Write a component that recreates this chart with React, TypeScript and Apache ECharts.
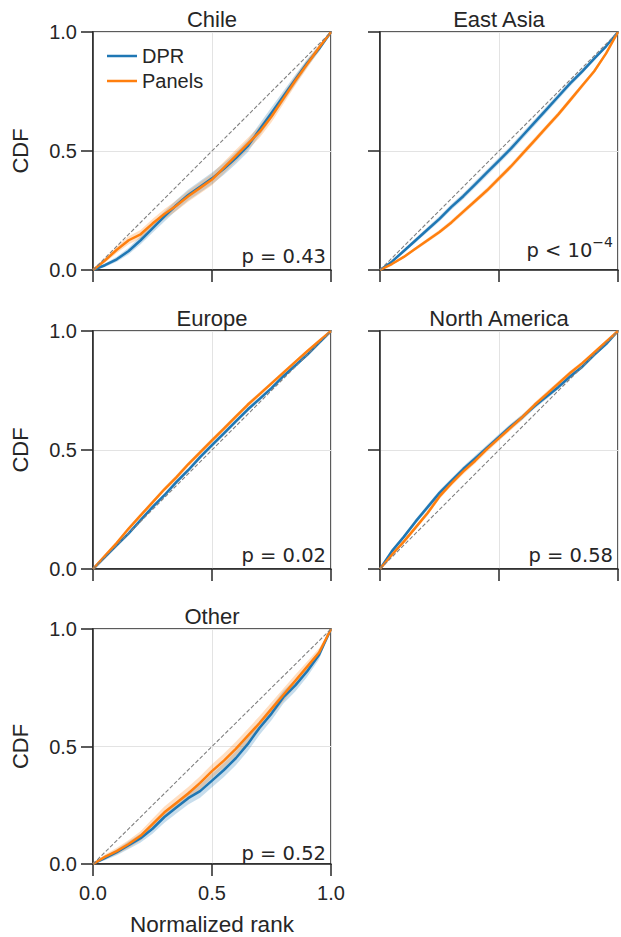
import React, { useEffect, useRef } from 'react';
import * as echarts from 'echarts';

// Normalized rank sample positions
const rankX = [0, 0.05, 0.1, 0.15, 0.2, 0.25, 0.3, 0.35, 0.4, 0.45, 0.5, 0.55, 0.6, 0.65, 0.7, 0.75, 0.8, 0.85, 0.9, 0.95, 1];

const panelTitles = ['Chile', 'East Asia', 'Europe', 'North America', 'Other'];
const pValueLabels = ['p = 0.43', 'p < 10^-4', 'p = 0.02', 'p = 0.58', 'p = 0.52'];
const seriesNames = ['DPR', 'Panels'];

// CDF values
const chileDPR = [0, 0.02, 0.045, 0.08, 0.125, 0.175, 0.225, 0.272, 0.315, 0.35, 0.385, 0.425, 0.47, 0.52, 0.59, 0.66, 0.73, 0.8, 0.87, 0.93, 1];
const chilePanels = [0, 0.04, 0.085, 0.125, 0.15, 0.195, 0.235, 0.27, 0.31, 0.345, 0.38, 0.43, 0.48, 0.53, 0.58, 0.645, 0.72, 0.795, 0.865, 0.935, 1];
const eastAsiaDPR = [0, 0.035, 0.08, 0.125, 0.17, 0.215, 0.265, 0.31, 0.36, 0.41, 0.46, 0.51, 0.565, 0.62, 0.675, 0.73, 0.785, 0.835, 0.888, 0.94, 1];
const eastAsiaPanels = [0, 0.025, 0.055, 0.09, 0.125, 0.16, 0.2, 0.245, 0.29, 0.335, 0.385, 0.435, 0.49, 0.545, 0.6, 0.655, 0.715, 0.775, 0.835, 0.91, 1];
const europeDPR = [0, 0.05, 0.1, 0.15, 0.205, 0.26, 0.31, 0.365, 0.415, 0.47, 0.52, 0.57, 0.62, 0.67, 0.715, 0.76, 0.81, 0.855, 0.9, 0.95, 1];
const europePanels = [0, 0.055, 0.11, 0.17, 0.225, 0.28, 0.335, 0.385, 0.44, 0.49, 0.54, 0.59, 0.64, 0.69, 0.735, 0.78, 0.825, 0.87, 0.915, 0.958, 1];
const northAmericaDPR = [0, 0.075, 0.135, 0.2, 0.26, 0.32, 0.37, 0.42, 0.465, 0.51, 0.555, 0.6, 0.64, 0.685, 0.725, 0.765, 0.81, 0.85, 0.9, 0.945, 1];
const northAmericaPanels = [0, 0.06, 0.115, 0.175, 0.235, 0.305, 0.36, 0.41, 0.455, 0.505, 0.55, 0.595, 0.64, 0.69, 0.735, 0.78, 0.825, 0.865, 0.91, 0.955, 1];
const otherDPR = [0, 0.025, 0.05, 0.08, 0.11, 0.15, 0.2, 0.24, 0.28, 0.31, 0.355, 0.4, 0.45, 0.51, 0.58, 0.64, 0.71, 0.76, 0.82, 0.89, 1];
const otherPanels = [0, 0.03, 0.055, 0.085, 0.12, 0.17, 0.22, 0.26, 0.3, 0.345, 0.395, 0.44, 0.49, 0.545, 0.6, 0.66, 0.72, 0.78, 0.84, 0.9, 1];

// confidence band half-widths (DPR, Panels) per panel
const bandHalfWidth = [
  [0.025, 0.025],
  [0.014, 0.012],
  [0.01, 0.01],
  [0.012, 0.012],
  [0.03, 0.03],
];

const panelData = [
  [chileDPR, chilePanels],
  [eastAsiaDPR, eastAsiaPanels],
  [europeDPR, europePanels],
  [northAmericaDPR, northAmericaPanels],
  [otherDPR, otherPanels],
];

const COLORS = ['#1f77b4', '#ff7f0e'];
const INK = '#262626';
const SANS = 'Liberation Sans, Arial, sans-serif';
const MATH = 'DejaVu Sans, sans-serif';

const GRID_POS = [
  { left: 93, top: 32 },
  { left: 380, top: 32 },
  { left: 93, top: 331 },
  { left: 380, top: 331 },
  { left: 93, top: 629 },
];
const SIZE = 238;

export default function App() {
  const ref = useRef<HTMLDivElement>(null);

  useEffect(() => {
    if (!ref.current) return;
    const chart = echarts.init(ref.current, null, { renderer: 'svg' });

    const grids = GRID_POS.map((g) => ({
      left: g.left,
      top: g.top,
      width: SIZE,
      height: SIZE,
      show: true,
      borderColor: INK,
      borderWidth: 1.5,
      backgroundColor: 'transparent',
    }));

    const xAxes = GRID_POS.map((_, i) => ({
      type: 'value',
      gridIndex: i,
      min: 0,
      max: 1,
      interval: 0.5,
      axisLine: { show: true, onZero: false, lineStyle: { color: INK, width: 1.5 } },
      axisTick: { show: true, inside: false, length: 12, lineStyle: { color: INK, width: 1.5 } },
      axisLabel: {
        show: i === 4,
        margin: 19,
        color: INK,
        fontSize: 20,
        fontFamily: SANS,
        formatter: (v: number) => v.toFixed(1),
      },
      splitLine: { show: true, lineStyle: { color: '#e3e3e3', width: 1 } },
      name: i === 4 ? 'Normalized rank' : '',
      nameLocation: 'middle',
      nameGap: 49,
      nameTextStyle: { color: INK, fontSize: 22.5, fontFamily: SANS },
    }));

    const yAxes = GRID_POS.map((_, i) => {
      const leftCol = i % 2 === 0;
      return {
        type: 'value',
        gridIndex: i,
        min: 0,
        max: 1,
        interval: 0.5,
        axisLine: { show: true, onZero: false, lineStyle: { color: INK, width: 1.5 } },
        axisTick: { show: true, inside: false, length: 12, lineStyle: { color: INK, width: 1.5 } },
        axisLabel: {
          show: leftCol,
          margin: 16,
          color: INK,
          fontSize: 20,
          fontFamily: SANS,
          formatter: (v: number) => v.toFixed(1),
        },
        splitLine: { show: true, lineStyle: { color: '#e3e3e3', width: 1 } },
        name: leftCol ? 'CDF' : '',
        nameLocation: 'middle',
        nameGap: 62,
        nameTextStyle: { color: INK, fontSize: 22, fontFamily: SANS },
      };
    });

    const series: any[] = [];
    panelData.forEach((pair, pi) => {
      pair.forEach((vals, si) => {
        const w = bandHalfWidth[pi][si];
        const upper = vals.map((v) => Math.min(1, v + w * Math.sqrt(4 * v * (1 - v))));
        const lower = vals.map((v) => Math.max(0, v - w * Math.sqrt(4 * v * (1 - v))));
        const color = COLORS[si];
        series.push({
          type: 'custom',
          name: seriesNames[si] + ' band',
          xAxisIndex: pi,
          yAxisIndex: pi,
          data: [[0, 0]],
          silent: true,
          z: 1,
          renderItem: (params: any, api: any) => {
            if (params.dataIndex !== 0) return null;
            const pts: number[][] = [];
            for (let k = 0; k < rankX.length; k++) pts.push(api.coord([rankX[k], upper[k]]));
            for (let k = rankX.length - 1; k >= 0; k--) pts.push(api.coord([rankX[k], lower[k]]));
            return {
              type: 'polygon',
              shape: { points: pts },
              style: { fill: color, opacity: 0.25 },
            };
          },
        });
        series.push({
          type: 'line',
          name: seriesNames[si],
          xAxisIndex: pi,
          yAxisIndex: pi,
          data: rankX.map((x, k) => [x, vals[k]]),
          symbol: 'none',
          showSymbol: false,
          z: 2,
          lineStyle: { color, width: 2.5 },
          itemStyle: { color },
        });
      });
      series.push({
        type: 'line',
        name: 'diagonal',
        xAxisIndex: pi,
        yAxisIndex: pi,
        data: [[0, 0], [1, 1]],
        symbol: 'none',
        showSymbol: false,
        silent: true,
        z: 3,
        lineStyle: { color: '#808080', width: 1.1, type: [4, 2] },
      });
    });

    const graphics: any[] = [];
    GRID_POS.forEach((g, i) => {
      graphics.push({
        type: 'text',
        x: g.left + SIZE / 2,
        y: g.top - 12.5,
        style: {
          text: panelTitles[i],
          fill: INK,
          fontSize: 22,
          fontFamily: SANS,
          textAlign: 'center',
          textVerticalAlign: 'middle',
        },
      });
      const label = pValueLabels[i];
      if (label.indexOf('^') >= 0) {
        const [base, exp] = label.split('^');
        graphics.push({
          type: 'text',
          x: g.left + SIZE - 5,
          y: g.top + SIZE - 20,
          style: {
            text: `{a|${base}}{b|${exp.replace('-', '\u2212')}}`,
            rich: {
              a: { fontSize: 19.5, fontFamily: MATH, fill: INK, lineHeight: 30 },
              b: { fontSize: 14, fontFamily: MATH, fill: INK, lineHeight: 14, verticalAlign: 'top' },
            },
            textAlign: 'right',
            textVerticalAlign: 'middle',
          },
        });
      } else {
        graphics.push({
          type: 'text',
          x: g.left + SIZE - 5,
          y: g.top + SIZE - 14,
          style: {
            text: label,
            fill: INK,
            fontSize: 19.5,
            fontFamily: MATH,
            textAlign: 'right',
            textVerticalAlign: 'middle',
          },
        });
      }
    });

    chart.setOption({
      animation: false,
      backgroundColor: '#ffffff',
      grid: grids,
      xAxis: xAxes,
      yAxis: yAxes,
      legend: {
        data: seriesNames,
        orient: 'vertical',
        left: 107,
        top: 45,
        padding: 0,
        icon: 'rect',
        itemWidth: 30,
        itemHeight: 2.5,
        itemGap: 3,
        selectedMode: false,
        textStyle: { color: INK, fontSize: 20, fontFamily: SANS, lineHeight: 22 },
      },
      series,
      graphic: graphics,
    });

    return () => chart.dispose();
  }, []);

  return (
    <div
      ref={ref}
      style={{ position: 'absolute', left: 0, top: 0, width: 621, height: 937 }}
    />
  );
}
